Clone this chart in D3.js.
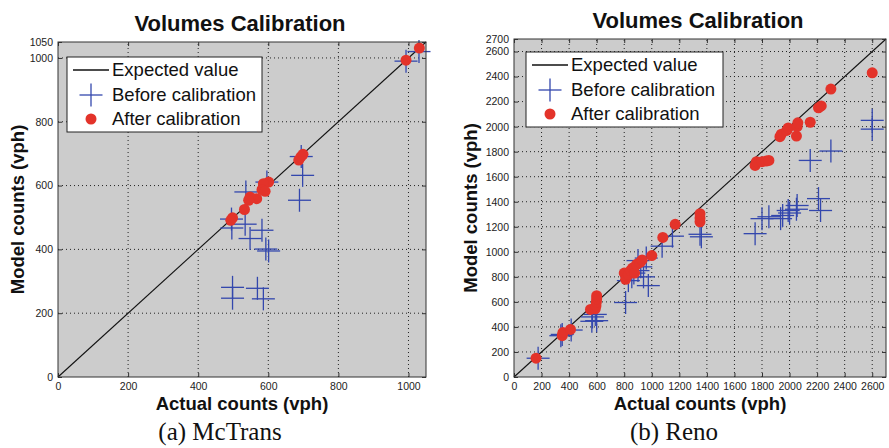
<!DOCTYPE html>
<html>
<head>
<meta charset="utf-8">
<script src="https://cdn.jsdelivr.net/npm/d3@7"></script>
<style>
  body { margin: 0; background: #fff; }
  svg { display: block; font-family: Arial, "Liberation Sans", sans-serif; }
  .tick text { fill: #222; font-size: 10.5px; }
</style>
</head>
<body>
<svg id="chart" width="889" height="448"></svg>
<script>
// (a) McTrans: [actual, model]
const mctransBefore = [[1030,1020],[993,990],[694,691],[698,632],[689,554],[596,611],[536,580],[495,495],
  [496,467],[534,479],[582,460],[548,434],[593,401],[601,395],[498,281],[498,247],[569,278],[586,245]];
const mctransAfter = [[1031,1031],[993,993],[687,680],[693,690],[699,698],[601,611],[586,606],[582,587],
  [591,582],[567,559],[548,564],[544,554],[532,525],[498,499],[493,491]];
const mctransXTicks = [0,200,400,600,800,1000];
const mctransYTicks = [0,200,400,600,800,1000,1050];

// (b) Reno: [actual, model]
const renoBefore = [[175,150],[340,330],[350,340],[415,375],[565,445],[590,500],[600,450],[570,480],
  [810,595],[830,770],[855,800],[870,830],[900,850],[920,880],[940,800],[975,730],[900,930],[960,950],
  [1075,1045],[1150,1125],[1350,1140],[1360,1120],[1750,1145],[1800,1265],[1850,1280],[1935,1265],
  [1950,1290],[1990,1330],[2000,1310],[2050,1340],[2055,1370],[2210,1425],[2225,1330],[2150,1730],
  [2300,1805],[2600,2050],[2600,1980]];
const renoAfter = [[160,150],[350,330],[355,355],[410,380],[555,540],[590,545],[595,570],[598,600],
  [600,625],[600,650],[800,830],[810,780],[830,820],[845,850],[860,870],[875,830],[890,900],[915,915],
  [930,935],[1000,970],[1080,1115],[1170,1220],[1350,1240],[1350,1270],[1350,1305],[1750,1690],
  [1760,1720],[1800,1720],[1830,1725],[1850,1730],[1930,1920],[1940,1940],[1980,1970],[1990,1990],
  [2050,1925],[2055,2000],[2060,2030],[2150,2035],[2210,2150],[2230,2165],[2300,2300],[2600,2430]];
const renoTicks = d3.range(0, 2700, 200);
const renoYTicks = renoTicks.concat([2700]);

const legendLabels = ['Expected value', 'Before calibration', 'After calibration'];

const BLUE = '#3347ad', RED = '#e3332a', BG = '#cccccc';

const svg = d3.select('#chart');
const fmt = d3.format('d');

function cross(g, cx, cy, h, w) {
  g.append('line').attr('x1', cx - h).attr('x2', cx + h).attr('y1', cy).attr('y2', cy)
    .attr('stroke', BLUE).attr('stroke-width', w);
  g.append('line').attr('x1', cx).attr('x2', cx).attr('y1', cy - h).attr('y2', cy + h)
    .attr('stroke', BLUE).attr('stroke-width', w);
}

function panel(cfg) {
  const x = d3.scaleLinear().domain([0, cfg.max]).range([cfg.x0, cfg.x1]);
  const y = d3.scaleLinear().domain([0, cfg.max]).range([cfg.y0, cfg.y1]);
  const g = svg.append('g');

  g.append('rect').attr('x', cfg.x0).attr('y', cfg.y1)
    .attr('width', cfg.x1 - cfg.x0).attr('height', cfg.y0 - cfg.y1).attr('fill', BG);

  // dotted grid
  g.append('g').selectAll('line').data(cfg.xTicks.filter(d => d > 0 && d < cfg.max)).join('line')
    .attr('x1', d => x(d)).attr('x2', d => x(d)).attr('y1', cfg.y0).attr('y2', cfg.y1)
    .attr('stroke', '#222').attr('stroke-width', 1).attr('stroke-dasharray', '1,3');
  g.append('g').selectAll('line').data(cfg.yTicks.filter(d => d > 0 && d < cfg.max)).join('line')
    .attr('y1', d => y(d)).attr('y2', d => y(d)).attr('x1', cfg.x0).attr('x2', cfg.x1)
    .attr('stroke', '#222').attr('stroke-width', 1).attr('stroke-dasharray', '1,3');

  // axes with inward ticks on all four sides
  const axes = [
    [d3.axisBottom(x).tickValues(cfg.xTicks).tickFormat(fmt).tickSizeInner(-4).tickSizeOuter(0).tickPadding(6), `translate(0,${cfg.y0})`],
    [d3.axisLeft(y).tickValues(cfg.yTicks).tickFormat(fmt).tickSizeInner(-4).tickSizeOuter(0).tickPadding(5), `translate(${cfg.x0},0)`],
    [d3.axisTop(x).tickValues(cfg.xTicks).tickSizeInner(-4).tickSizeOuter(0).tickFormat(''), `translate(0,${cfg.y1})`],
    [d3.axisRight(y).tickValues(cfg.yTicks).tickSizeInner(-4).tickSizeOuter(0).tickFormat(''), `translate(${cfg.x1},0)`]
  ];
  axes.forEach(([ax, tr]) => {
    const a = g.append('g').attr('transform', tr).call(ax);
    a.select('.domain').remove();
    a.selectAll('.tick line').attr('stroke', '#333');
    a.selectAll('.tick text').attr('font-family', 'Arial, "Liberation Sans", sans-serif').attr('font-size', 10.5);
  });

  // expected value line
  g.append('line').attr('x1', x(0)).attr('y1', y(0)).attr('x2', x(cfg.max)).attr('y2', y(cfg.max))
    .attr('stroke', '#111').attr('stroke-width', 1.1);

  const before = g.append('g');
  cfg.before.forEach(d => cross(before, x(d[0]), y(d[1]), 11.5, 1.3));

  g.append('g').selectAll('circle').data(cfg.after).join('circle')
    .attr('cx', d => x(d[0])).attr('cy', d => y(d[1])).attr('r', 5.5).attr('fill', RED);

  g.append('rect').attr('x', cfg.x0).attr('y', cfg.y1)
    .attr('width', cfg.x1 - cfg.x0).attr('height', cfg.y0 - cfg.y1)
    .attr('fill', 'none').attr('stroke', '#333').attr('stroke-width', 1);

  // legend
  const L = cfg.legend;
  const lg = g.append('g');
  lg.append('rect').attr('x', L.x).attr('y', L.y).attr('width', L.w).attr('height', 75)
    .attr('fill', '#fff').attr('stroke', '#222').attr('stroke-width', 1);
  const sx = L.x + 24;
  lg.append('line').attr('x1', sx - 18).attr('x2', sx + 18).attr('y1', L.y + 13).attr('y2', L.y + 13)
    .attr('stroke', '#111').attr('stroke-width', 1.3);
  cross(lg, sx, L.y + 38, 11.5, 1.3);
  lg.append('circle').attr('cx', sx).attr('cy', L.y + 62).attr('r', 5.5).attr('fill', RED);
  legendLabels.forEach((t, i) => {
    lg.append('text').attr('x', L.x + 45).attr('y', L.y + 13 + i * 24.5).attr('dy', '0.35em')
      .attr('font-size', 18.5).attr('fill', '#111').text(t);
  });

  const cx = (cfg.x0 + cfg.x1) / 2;
  g.append('text').attr('x', cx + cfg.titleShift).attr('y', cfg.y1 - 11).attr('text-anchor', 'middle')
    .attr('font-size', 22).attr('font-weight', 'bold').attr('fill', '#111').text('Volumes Calibration');
  g.append('text').attr('x', cx).attr('y', 410).attr('text-anchor', 'middle')
    .attr('font-size', 18.5).attr('font-weight', 'bold').attr('fill', '#111').text('Actual counts (vph)');
  g.append('text').attr('transform', `translate(${cfg.yLabelX},${(cfg.y0 + cfg.y1) / 2}) rotate(-90)`)
    .attr('text-anchor', 'middle').attr('font-size', 18.5).attr('font-weight', 'bold').attr('fill', '#111')
    .text('Model counts (vph)');
  g.append('text').attr('x', cfg.capX).attr('y', 440).attr('text-anchor', 'middle')
    .attr('font-family', '"Liberation Serif", "Times New Roman", serif').attr('font-size', 25)
    .attr('fill', '#111').text(cfg.caption);
}

panel({
  max: 1050, x0: 58, x1: 426, y0: 377, y1: 42,
  xTicks: mctransXTicks, yTicks: mctransYTicks,
  before: mctransBefore, after: mctransAfter,
  legend: { x: 67, y: 57, w: 195 },
  titleShift: -2, yLabelX: 24, capX: 220, caption: '(a) McTrans'
});

panel({
  max: 2700, x0: 514, x1: 886, y0: 377, y1: 39,
  xTicks: renoTicks, yTicks: renoYTicks,
  before: renoBefore, after: renoAfter,
  legend: { x: 526, y: 52, w: 197 },
  titleShift: -2, yLabelX: 477, capX: 674, caption: '(b) Reno'
});
</script>
</body>
</html>
